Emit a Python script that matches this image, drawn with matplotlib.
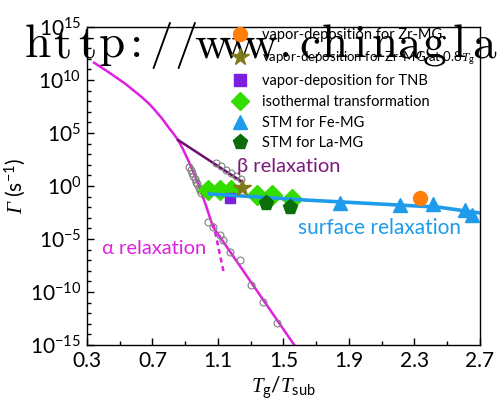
import numpy as np
import matplotlib
matplotlib.use('Agg')
import matplotlib.pyplot as plt
from matplotlib.lines import Line2D
from matplotlib.ticker import FixedLocator, NullFormatter, LogFormatterSciNotation

plt.rcParams['font.family'] = ['Lato', 'DejaVu Sans']
plt.rcParams['mathtext.fontset'] = 'custom'
plt.rcParams['mathtext.rm'] = 'Lato'
plt.rcParams['mathtext.it'] = 'Liberation Serif:italic'
plt.rcParams['mathtext.sf'] = 'Liberation Serif:italic'

# relaxation rate data, stored as log10(Gamma / s^-1)
alpha_x = [0.343, 0.428, 0.530, 0.632, 0.680, 0.723, 0.760, 0.795, 0.826, 0.856,
           0.887, 0.917, 0.948, 0.978, 1.029, 1.069, 1.57]
alpha_log = [11.63, 10.78, 9.69, 8.42, 7.75, 7.01, 6.33, 5.59, 4.98, 4.34,
             3.45, 2.45, 1.38, 0.25, -1.95, -3.84, -15.1]
dash_x = [1.071, 1.137]
dash_log = [-3.52, -8.3]
beta_x = [0.856, 1.245]
beta_log = [4.34, 0.41]
surf_x = [1.05, 1.63, 2.45, 2.7]
surf_log = [-0.75, -1.32, -2.0, -2.55]

circ_x = [0.925, 0.933, 0.941, 0.949, 0.957, 0.965, 0.973, 0.981, 0.989, 0.997,
          1.09, 1.12, 1.15, 1.18, 1.21, 1.24,
          1.039, 1.071, 1.112, 1.13, 1.173, 1.234, 1.30, 1.377, 1.462]
circ_log = [1.75, 1.50, 1.20, 0.95, 0.70, 0.40, 0.15, -0.15, -0.40, -0.65,
            2.14, 1.85, 1.55, 1.25, 0.95, 0.65,
            -3.37, -3.84, -4.62, -5.1, -6.2, -6.98, -9.34, -10.9, -12.9]

zr_x, zr_log = [2.334], [-1.16]
zr08_x, zr08_log = [1.248], [-0.22]
tnb_x, tnb_log = [1.173], [-1.16]
iso_x = [1.039, 1.112, 1.177, 1.336, 1.432, 1.55]
iso_log = [-0.38, -0.38, -0.42, -0.85, -0.85, -1.25]
fe_x = [1.845, 2.211, 2.415, 2.608, 2.649]
fe_log = [-1.64, -1.79, -1.70, -2.26, -2.74]
la_x = [1.393, 1.54]
la_log = [-1.64, -1.96]

watermark = 'http://www.chinagla'

c_alpha = '#E020E0'
c_beta = '#6B0F6B'
c_blue = '#1E9BEA'

def G(v):
    return 10.0 ** np.array(v)

fig = plt.figure(figsize=(5, 4.19), dpi=100)
ax = fig.add_axes([0.174, 0.1766, 0.786, 0.759])
ax.patch.set_facecolor('none')

ax.plot(alpha_x, G(alpha_log), color=c_alpha, lw=1.8, zorder=2)
ax.plot(dash_x, G(dash_log), color=c_alpha, lw=1.8, ls=(0, (2, 1.5)), zorder=2)
ax.plot(beta_x, G(beta_log), color=c_beta, lw=1.8, zorder=2)
ax.plot(circ_x, G(circ_log), 'o', ms=5, mfc='none', mec='#808080', mew=0.8, zorder=3)

ax.plot(iso_x, G(iso_log), 'D', ms=10, color='#33DD00', mec='#33DD00', zorder=3)
ax.plot(tnb_x, G(tnb_log), 's', ms=7, color='#7B1FE0', zorder=3)
ax.plot(surf_x, G(surf_log), color=c_blue, lw=2.6, zorder=4)
ax.plot(fe_x, G(fe_log), '^', ms=10, color=c_blue, zorder=5)
ax.plot(la_x, G(la_log), 'p', ms=11, color='#0B6E0B', zorder=5)
ax.plot(zr08_x, G(zr08_log), '*', ms=13, color='#7F7A1A', zorder=6)
ax.plot(zr_x, G(zr_log), 'o', ms=10, color='#FF7F0A', zorder=6)

ax.text(0.39, G(-5.85), 'α relaxation', color=c_alpha, fontsize=14.5, va='center')
ax.text(1.216, G(1.8), 'β relaxation', color='#7A1A7A', fontsize=14.5, va='center')
ax.text(1.589, G(-4.0), 'surface relaxation', color=c_blue, fontsize=15, va='center')

ax.set_yscale('log')
ax.set_xlim(0.3, 2.7)
ax.set_ylim(1e-15, 1e15)
ax.xaxis.set_major_locator(FixedLocator(np.arange(0.3, 2.71, 0.4)))
ax.xaxis.set_minor_locator(FixedLocator(np.arange(0.5, 2.7, 0.4)))
ax.set_xticklabels(['0.3', '0.7', '1.1', '1.5', '1.9', '2.3', '2.7'])
ax.yaxis.set_major_locator(FixedLocator(10.0 ** np.arange(-15, 16, 5)))
ax.yaxis.set_minor_locator(FixedLocator(10.0 ** np.arange(-15, 16, 1)))
ax.yaxis.set_major_formatter(LogFormatterSciNotation())
ax.yaxis.set_minor_formatter(NullFormatter())
ax.tick_params(which='both', direction='in', top=False, right=False, width=1.0)
ax.tick_params(which='major', length=5, labelsize=15, pad=4)
ax.tick_params(which='minor', length=3)
for s in ax.spines.values():
    s.set_linewidth(1.0)

ax.set_xlabel(r'$T_{\mathrm{g}}/T_{\mathrm{sub}}$', fontsize=15, labelpad=3)
ax.set_ylabel(r'$\mathsf{Γ}$ (s$^{-1}$)', fontsize=15, labelpad=2)

handles = [
    Line2D([], [], ls='none', marker='o', ms=10, color='#FF7F0A'),
    Line2D([], [], ls='none', marker='*', ms=13, color='#7F7A1A'),
    Line2D([], [], ls='none', marker='s', ms=8, color='#7B1FE0'),
    Line2D([], [], ls='none', marker='D', ms=9, color='#33DD00'),
    Line2D([], [], ls='none', marker='^', ms=10, color=c_blue),
    Line2D([], [], ls='none', marker='p', ms=11, color='#0B6E0B'),
]
labels = ['vapor-deposition for Zr-MG',
          r'vapor-deposition for Zr-MG at 0.8$T_{\mathrm{g}}$',
          'vapor-deposition for TNB',
          'isothermal transformation',
          'STM for Fe-MG',
          'STM for La-MG']
leg = ax.legend(handles, labels, loc='upper left', bbox_to_anchor=(0.366, 1.0),
                frameon=False, fontsize=10.5, borderpad=0, borderaxespad=0.1,
                handlelength=1.0, handletextpad=1.05, labelspacing=0.46)
leg.get_texts()[1].set_fontsize(9.5)

# watermark, one glyph per fixed-width cell
for i, ch in enumerate(watermark):
    fig.text((25 + 12.4 + i * 24.8) / 500, 1 - 57 / 419, ch, family='cmr10',
             fontsize=34, va='baseline', ha='center', color='black', zorder=-1)

fig.savefig('out.png', dpi=100)
